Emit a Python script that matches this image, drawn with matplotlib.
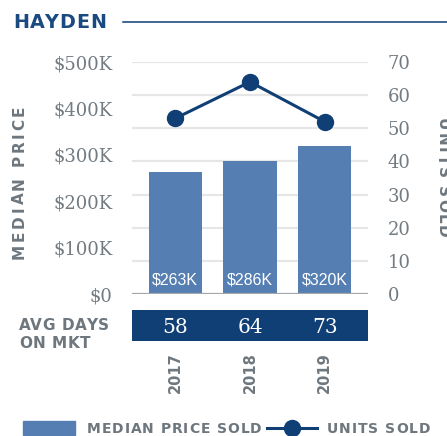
import numpy as np
import matplotlib
matplotlib.use("Agg")
import matplotlib.pyplot as plt
from matplotlib.font_manager import FontProperties
from matplotlib.lines import Line2D
from matplotlib.patches import Rectangle

# ---------------- data ----------------
years = ["2017", "2018", "2019"]
median_price = [263000, 286000, 320000]
bar_labels = ["$263K", "$286K", "$320K"]
units_sold = [53, 64, 52]
avg_days = [58, 64, 73]
price_ticks = [0, 100000, 200000, 300000, 400000, 500000]
price_tick_labels = ["$0", "$100K", "$200K", "$300K", "$400K", "$500K"]
units_ticks = [0, 10, 20, 30, 40, 50, 60, 70]

# ---------------- style ----------------
NAVY = "#0f3f75"
TITLE = "#1a4a80"
BAR = "#557fb3"
GRAY = "#6e777e"
TICKGRAY = "#727b82"
GRID = "#e6e6e6"
ZERO = "#a4a7aa"
SANS = "DejaVu Sans"

W, H = 447, 436
fig = plt.figure(figsize=(W / 100, H / 100), dpi=100)


def fx(px):
    return px / W


def fy(py):
    return 1 - py / H


renderer = fig.canvas.get_renderer()


def spaced_text(s, x_px, y_px, size, spacing, color, rotation=0, ha="left",
                family=SANS, weight="bold"):
    prop = FontProperties(family=family, weight=weight, size=size)

    def wd(t):
        return renderer.get_text_width_height_descent(t, prop, ismath=False)[0]

    total = wd(s) + (len(s) - 1) * spacing
    start = {"left": 0, "center": -total / 2, "right": -total}[ha]
    for i, c in enumerate(s):
        if c == " ":
            continue
        off = start + wd(s[: i + 1]) - wd(c) + i * spacing
        if rotation == 0:
            px, py = x_px + off, y_px
        elif rotation == 90:
            px, py = x_px, y_px - off
        else:
            px, py = x_px, y_px + off
        fig.text(fx(px), fy(py), c, rotation=rotation, rotation_mode="anchor",
                 ha="left", va="baseline", fontproperties=prop, color=color)


# ---------------- main axes ----------------
L, R, T, B = 132, 368, 62, 294
ax = fig.add_axes([fx(L), fy(B), fx(R) - fx(L), fy(T) - fy(B)])
x = np.arange(len(years))
ax.set_xlim(-0.58, len(years) - 1 + 0.58)
ax.set_ylim(price_ticks[0], price_ticks[-1])
ax.set_facecolor("none")

# gridlines follow the right-hand (units) ticks
for v in units_ticks[1:]:
    ax.axhline(v / units_ticks[-1] * price_ticks[-1], color=GRID, lw=1.6, zorder=1)
ax.axhline(0, color=ZERO, lw=1.6, zorder=3)

ax.bar(x, median_price, width=0.71, color=BAR, zorder=2)
for xi, lab in zip(x, bar_labels):
    ax.annotate(lab, xy=(xi, 0), xytext=(0, 6.5), textcoords="offset points",
                ha="center", va="baseline", color="white", fontsize=11.5,
                family="Liberation Sans", zorder=4)

ax.set_xticks([])
ax.set_yticks(price_ticks, price_tick_labels)
ax.tick_params(axis="y", length=0, pad=14, labelsize=13, labelcolor=TICKGRAY)
for lab in ax.get_yticklabels():
    lab.set_fontfamily("DejaVu Serif")
for sp in ax.spines.values():
    sp.set_visible(False)

ax2 = ax.twinx()
ax2.set_ylim(units_ticks[0], units_ticks[-1])
ax2.plot(x, units_sold, color=NAVY, lw=2.2, marker="o", ms=11.5, zorder=5,
         clip_on=False)
ax2.set_yticks(units_ticks)
ax2.tick_params(axis="y", length=0, pad=14, labelsize=13, labelcolor=TICKGRAY)
for lab in ax2.get_yticklabels():
    lab.set_fontfamily("DejaVu Serif")
for sp in ax2.spines.values():
    sp.set_visible(False)

# ---------------- avg days band ----------------
BT, BB = 310, 341
axb = fig.add_axes([fx(L), fy(BB), fx(R) - fx(L), fy(BT) - fy(BB)])
axb.set_xlim(ax.get_xlim())
axb.set_ylim(0, 1)
axb.set_facecolor(NAVY)
for sp in axb.spines.values():
    sp.set_visible(False)
axb.set_yticks([])
axb.set_xticks(x, years)
axb.tick_params(axis="x", length=0, pad=8)
for lab in axb.get_xticklabels():
    lab.set_rotation(90)
    lab.set_fontsize(10.5)
    lab.set_fontweight("bold")
    lab.set_color(GRAY)
    lab.set_fontfamily(SANS)
for xi, d in zip(x, avg_days):
    axb.text(xi, 0.26, str(d), ha="center", va="baseline", color="white",
             fontsize=14.5, family="DejaVu Serif")

# ---------------- titles and labels ----------------
spaced_text("HAYDEN", 13, 28, 13.8, 1.2, TITLE)
fig.add_artist(Line2D([fx(123), 1.0], [fy(22), fy(22)], color=NAVY, lw=1.1))

spaced_text("MEDIAN PRICE", 24, 182, 11, 2.7, GRAY, rotation=90, ha="center")
spaced_text("UNITS SOLD", 438, 178, 11, 1.7, GRAY, rotation=-90, ha="center")

spaced_text("AVG DAYS", 19, 330, 11, 0.6, GRAY)
spaced_text("ON MKT", 19, 348, 11, 0.6, GRAY)

# ---------------- legend ----------------
fig.add_artist(Rectangle((fx(23), fy(435)), fx(75) - fx(23), fy(421) - fy(435),
                         color=BAR, transform=fig.transFigure))
spaced_text("MEDIAN PRICE SOLD", 87, 433, 10, 0.9, GRAY)
fig.add_artist(Line2D([fx(267), fx(317)], [fy(428), fy(428)], color=NAVY, lw=2.2))
fig.add_artist(Line2D([fx(292)], [fy(428)], color=NAVY, marker="o", ms=11.5, lw=0))
spaced_text("UNITS SOLD", 327, 433, 10, 0.9, GRAY)

fig.savefig("out.png", dpi=100)
